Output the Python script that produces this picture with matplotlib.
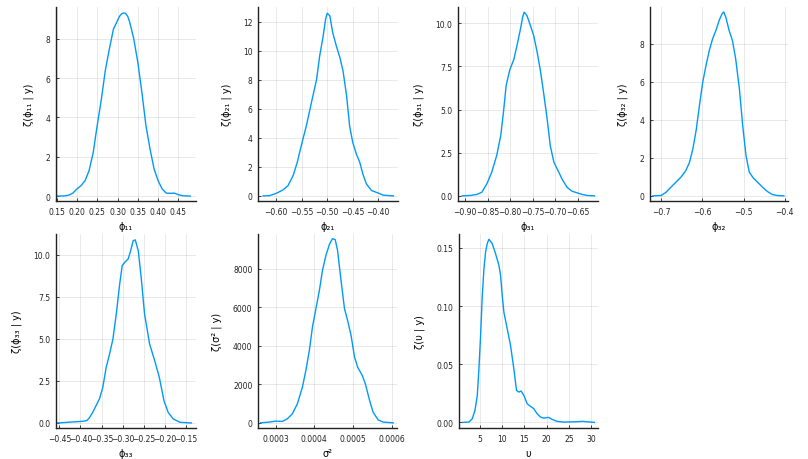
import matplotlib
matplotlib.use("Agg")
import matplotlib.pyplot as plt
import numpy as np

# posterior density curves (x, density)
phi11_x = [0.153, 0.170, 0.180, 0.190, 0.200, 0.210, 0.220, 0.230, 0.240, 0.250, 0.260, 0.270, 0.280, 0.290,
           0.300, 0.305, 0.310, 0.315, 0.320, 0.325, 0.330, 0.340, 0.350, 0.360, 0.370, 0.380, 0.390, 0.400,
           0.410, 0.420, 0.430, 0.440, 0.450, 0.460, 0.479]
phi11_y = [0.0, 0.01, 0.05, 0.15, 0.36, 0.53, 0.78, 1.3, 2.2, 3.6, 4.9, 6.4, 7.5, 8.5,
           8.93, 9.15, 9.27, 9.32, 9.29, 9.15, 8.85, 8.0, 6.8, 5.28, 3.58, 2.4, 1.38, 0.78,
           0.36, 0.15, 0.14, 0.15, 0.07, 0.02, 0.0]

phi21_x = [-0.626, -0.613, -0.600, -0.587, -0.577, -0.567, -0.559, -0.551, -0.541, -0.531, -0.521, -0.515,
           -0.508, -0.503, -0.500, -0.495, -0.489, -0.482, -0.475, -0.469, -0.462, -0.456, -0.450, -0.443,
           -0.436, -0.430, -0.423, -0.413, -0.400, -0.390, -0.370]
phi21_y = [0.0, 0.02, 0.18, 0.41, 0.71, 1.4, 2.3, 3.46, 4.83, 6.43, 8.0, 9.6,
           11.0, 12.2, 12.57, 12.4, 11.2, 10.3, 9.5, 8.6, 6.9, 4.8, 3.7, 2.9,
           2.3, 1.5, 0.82, 0.37, 0.2, 0.05, 0.0]

phi31_x = [-0.907, -0.889, -0.874, -0.863, -0.852, -0.841, -0.830, -0.821, -0.815, -0.809, -0.801, -0.792,
           -0.785, -0.777, -0.772, -0.769, -0.763, -0.755, -0.748, -0.740, -0.733, -0.726, -0.718, -0.711,
           -0.703, -0.694, -0.685, -0.674, -0.663, -0.651, -0.640, -0.629, -0.613]
phi31_y = [0.0, 0.02, 0.08, 0.21, 0.69, 1.37, 2.34, 3.5, 4.85, 6.4, 7.3, 7.9,
           8.7, 9.7, 10.4, 10.64, 10.45, 9.86, 9.3, 8.3, 7.26, 6.0, 4.46, 2.9,
           1.95, 1.47, 0.98, 0.5, 0.27, 0.17, 0.08, 0.02, 0.0]

phi32_x = [-0.720, -0.700, -0.688, -0.676, -0.664, -0.652, -0.640, -0.631, -0.623, -0.615, -0.607, -0.599,
           -0.591, -0.583, -0.575, -0.567, -0.559, -0.552, -0.548, -0.543, -0.535, -0.527, -0.519, -0.510,
           -0.502, -0.494, -0.486, -0.476, -0.466, -0.454, -0.442, -0.430, -0.418, -0.402]
phi32_y = [0.0, 0.02, 0.19, 0.46, 0.72, 0.98, 1.33, 1.77, 2.47, 3.44, 4.75, 5.98,
           6.86, 7.65, 8.26, 8.7, 9.23, 9.58, 9.67, 9.4, 8.7, 8.18, 7.2, 5.63,
           3.7, 2.12, 1.25, 0.93, 0.72, 0.46, 0.23, 0.07, 0.02, 0.0]

phi33_x = [-0.454, -0.418, -0.394, -0.385, -0.379, -0.371, -0.363, -0.355, -0.347, -0.339, -0.331, -0.323,
           -0.315, -0.307, -0.301, -0.293, -0.287, -0.282, -0.275, -0.270, -0.263, -0.256, -0.248, -0.236,
           -0.224, -0.213, -0.202, -0.192, -0.180, -0.164, -0.137]
phi33_y = [0.0, 0.06, 0.1, 0.14, 0.3, 0.63, 1.03, 1.43, 2.12, 3.31, 4.1, 5.0,
           6.49, 8.27, 9.37, 9.62, 9.76, 10.16, 10.85, 10.9, 10.26, 8.67, 6.49, 4.7,
           3.71, 2.72, 1.33, 0.63, 0.24, 0.04, 0.0]

# sigma^2 in units of 1e-4
sigma2_x = [2.61, 2.83, 3.00, 3.17, 3.30, 3.43, 3.56, 3.69, 3.78, 3.87, 3.95, 4.04, 4.13, 4.21, 4.30,
            4.39, 4.47, 4.54, 4.60, 4.69, 4.78, 4.86, 4.95, 5.04, 5.12, 5.24, 5.32, 5.43, 5.52, 5.65, 5.78, 6.04]
sigma2_y = [0, 35, 87, 70, 208, 468, 987, 1853, 2719, 3758, 4970, 5922, 6874, 7913, 8693,
            9264, 9558, 9506, 8952, 7394, 5922, 5316, 4537, 3411, 2892, 2459, 2026, 1160, 554, 156, 35, 0]

nu_x = [1.13, 2.62, 3.36, 3.96, 4.48, 4.85, 5.22, 5.60, 5.97, 6.34, 6.71, 7.08, 7.83, 8.57, 9.32, 9.69,
        10.06, 10.43, 11.18, 11.92, 12.66, 13.26, 13.78, 14.30, 14.90, 15.64, 16.38, 17.13, 17.87, 18.62,
        19.36, 20.48, 21.22, 22.34, 23.82, 26.80, 28.07, 30.67]
nu_y = [0.0, 0.0003, 0.0032, 0.0103, 0.0232, 0.0463, 0.0746, 0.109, 0.132, 0.1466, 0.1537, 0.1575, 0.1537,
        0.1451, 0.1351, 0.1265, 0.1093, 0.0949, 0.0806, 0.0663, 0.0462, 0.0275, 0.0261, 0.027, 0.0232,
        0.0161, 0.0138, 0.0118, 0.0075, 0.0046, 0.0037, 0.0043, 0.0026, 0.0009, 0.0003, 0.0006, 0.0009, 0.0]

xlabels = ["ϕ₁₁", "ϕ₂₁", "ϕ₃₁", "ϕ₃₂", "ϕ₃₃", "σ²", "υ"]
ylabels = ["ζ(ϕ₁₁ | y)", "ζ(ϕ₂₁ | y)", "ζ(ϕ₃₁ | y)", "ζ(ϕ₃₂ | y)", "ζ(ϕ₃₃ | y)", "ζ(σ² | y)", "ζ(υ | y)"]

panels = [
    (phi11_x, phi11_y, (0.1485, 0.492), (-0.25, 9.62), [0.15, 0.20, 0.25, 0.30, 0.35, 0.40, 0.45], [0, 2, 4, 6, 8], "%.2f", "%d"),
    (phi21_x, phi21_y, (-0.636, -0.361), (-0.35, 13.0), [-0.60, -0.55, -0.50, -0.45, -0.40], [0, 2, 4, 6, 8, 10, 12], "%.2f", "%d"),
    (phi31_x, phi31_y, (-0.916, -0.605), (-0.3, 10.94), [-0.90, -0.85, -0.80, -0.75, -0.70, -0.65], [0, 2.5, 5, 7.5, 10], "%.2f", "%.1f"),
    (phi32_x, phi32_y, (-0.727, -0.392), (-0.27, 9.93), [-0.7, -0.6, -0.5, -0.4], [0, 2, 4, 6, 8], "%.1f", "%d"),
    (phi33_x, phi33_y, (-0.458, -0.126), (-0.3, 11.25), [-0.45, -0.40, -0.35, -0.30, -0.25, -0.20, -0.15], [0, 2.5, 5, 7.5, 10], "%.2f", "%.1f"),
    ([v * 1e-4 for v in sigma2_x], sigma2_y, (0.000254, 0.000614), (-270, 9800), [0.0003, 0.0004, 0.0005, 0.0006], [0, 2000, 4000, 6000, 8000], "%.4f", "%d"),
    (nu_x, nu_y, (0.39, 31.5), (-0.0048, 0.162), [5, 10, 15, 20, 25, 30], [0, 0.05, 0.10, 0.15], "%d", "%.2f"),
]

# axes boxes in pixels: left, right, top, bottom
W, H = 808, 460
boxes = [
    (56, 195.5, 8, 202), (258, 398, 8, 202), (458, 598, 8, 202), (650, 788, 8, 202),
    (56, 196, 235, 429), (258, 397, 235, 429), (459, 598, 235, 429),
]

fig = plt.figure(figsize=(W / 100, H / 100), dpi=100)

for i, (xs, ys, xl, yl, xt, yt, xf, yf) in enumerate(panels):
    l, r, t, b = boxes[i]
    ax = fig.add_axes([l / W, 1 - b / H, (r - l) / W, (b - t) / H])
    ax.plot(xs, ys, color="#009AFA", lw=1.0, solid_joinstyle="round")
    ax.set_xlim(xl)
    ax.set_ylim(yl)
    ax.set_xticks(xt)
    ax.set_yticks(yt)
    ax.set_xticklabels([(xf % v).replace("-", "\u2212") for v in xt])
    ax.set_yticklabels([(yf % v).replace("-", "\u2212") for v in yt])
    ax.grid(True, color="black", alpha=0.1, lw=0.6)
    ax.set_axisbelow(True)
    for s in ["top", "right"]:
        ax.spines[s].set_visible(False)
    for s in ["left", "bottom"]:
        ax.spines[s].set_linewidth(1.0)
        ax.spines[s].set_color("#222222")
    ax.tick_params(direction="in", length=2.5, width=0.6, labelsize=5.5, colors="#222222", pad=4)
    ax.set_xlabel(xlabels[i], fontsize=7, labelpad=4)
    ax.set_ylabel(ylabels[i], fontsize=7, labelpad=8)

fig.savefig("out.png", dpi=100)
